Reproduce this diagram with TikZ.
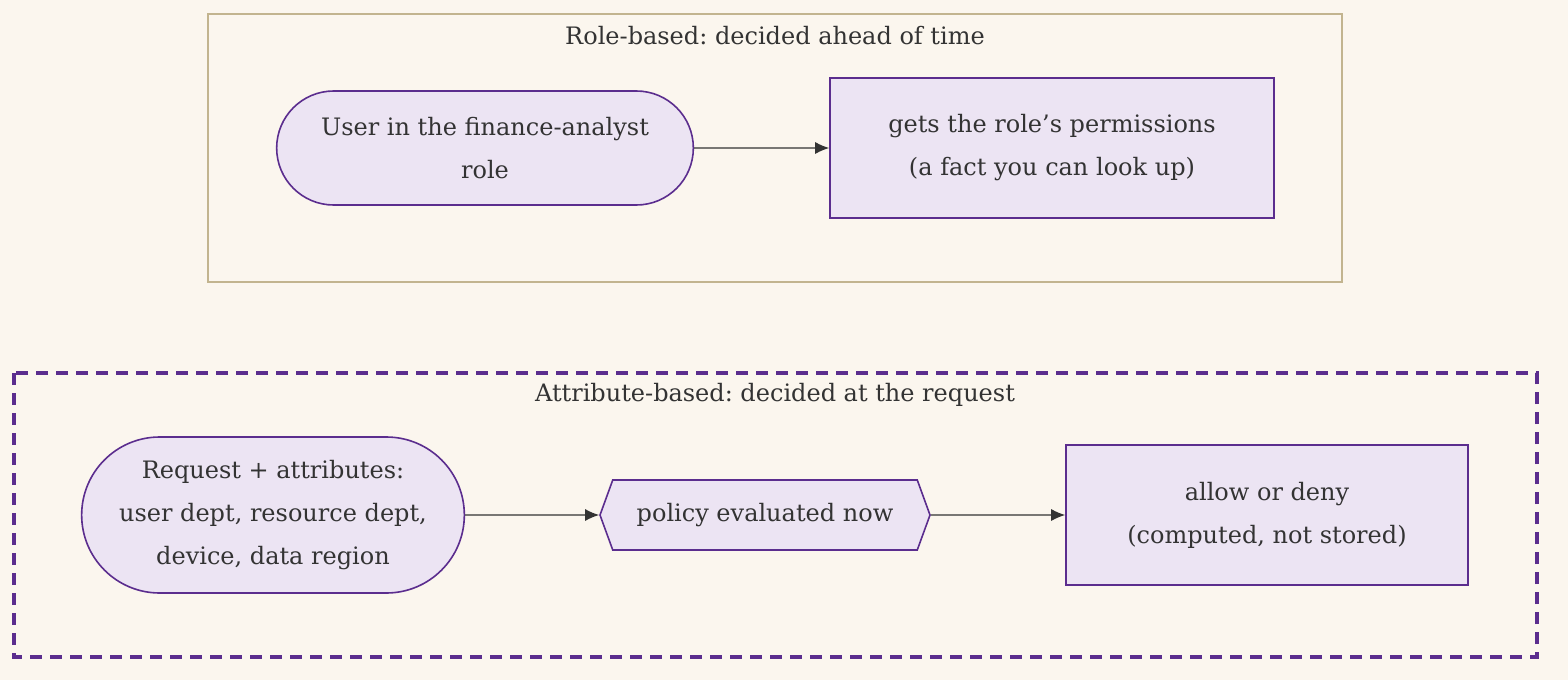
\documentclass[tikz,border=0pt]{standalone}
\usepackage{fontspec}
\setmainfont{DejaVu Serif}
\frenchspacing
\usetikzlibrary{positioning, calc, shapes.misc, shapes.symbols, arrows.meta}
\definecolor{bgcol}{HTML}{FBF6EE}
\definecolor{nodefill}{HTML}{ECE4F3}
\definecolor{nodeline}{HTML}{5B2D8E}
\definecolor{framecol}{HTML}{C2B48F}
\definecolor{txt}{HTML}{333333}
\tikzset{stadium/.style={rounded rectangle, draw=nodeline, fill=nodefill, thick, text=txt, align=center, font=\fontsize{12}{21.5}\selectfont}}
\tikzset{factbox/.style={rectangle, draw=nodeline, fill=nodefill, thick, text=txt, align=center, font=\fontsize{12}{21.5}\selectfont}}
\tikzset{policy/.style={signal, signal to=west and east, signal pointer angle=140, draw=nodeline, fill=nodefill, thick, text=txt, font=\fontsize{12}{21.5}\selectfont}}
\tikzset{flow/.style={-{Latex[length=7pt,width=6pt]}, draw=txt, semithick}}
\begin{document}
\begin{tikzpicture}[x=0.5pt, y=-0.5pt]
      \fill[bgcol] (0,0) rectangle (1568,680);
      \useasboundingbox (0,0) rectangle (1568,680);

      % role-based frame
      \draw[framecol, thick] (208,14) rectangle (1342,282);
      \node[text=txt, font=\fontsize{12}{16}\selectfont] (roletitle) at (775,36) {Role-based: decided ahead of time};

      \node[stadium, minimum width=215pt, minimum height=57pt] (user) at (485,148) {User in the finance-analyst\\role};
      \node[factbox, minimum width=222pt, minimum height=70pt] (perms) at (1052,148) {gets the role's permissions\\(a fact you can look up)};
      \draw[flow] (user) -- (perms);

      % attribute-based frame
      \draw[nodeline, line width=1.6pt, dash pattern=on 6pt off 4pt] (14,373) rectangle (1537,657);
      \node[text=txt, font=\fontsize{12}{16}\selectfont] (attrtitle) at (775,395) {Attribute-based: decided at the request};

      \node[stadium, minimum width=198pt, minimum height=78pt] (request) at (273,515) {Request + attributes:\\user dept, resource dept,\\device, data region};
      \node[policy, minimum width=165pt, minimum height=35pt, inner sep=1pt] (policy) at (765,515) {policy evaluated now};
      \node[factbox, minimum width=201pt, minimum height=70pt] (decision) at (1267,515) {allow or deny\\(computed, not stored)};
      \draw[flow] (request) -- (policy);
      \draw[flow] (policy) -- (decision);
\end{tikzpicture}
\end{document}
